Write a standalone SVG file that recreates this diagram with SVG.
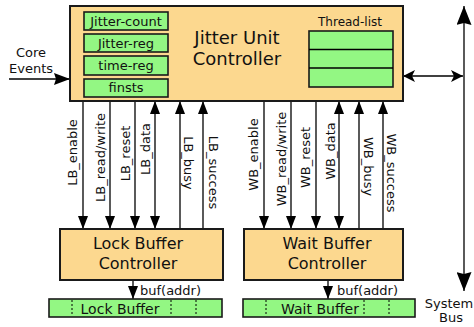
<svg xmlns="http://www.w3.org/2000/svg" width="474" height="327" viewBox="0 0 474 327">
<style>
text{font-family:"DejaVu Sans","Liberation Sans",sans-serif;fill:#111}
.box{fill:#fcd88f;stroke:#1a1a1a;stroke-width:2}
.reg{fill:#93f783;stroke:#1a1a1a;stroke-width:1.6}
.ln{stroke:#000;stroke-width:1.3;fill:none}
.dot{stroke:#000;stroke-width:1;stroke-dasharray:2,2}
.sig{font-size:13px}
.t13{font-size:13px}
</style>
<defs>
<marker id="ah" markerUnits="userSpaceOnUse" markerWidth="13" markerHeight="10" refX="13" refY="5" orient="auto-start-reverse" viewBox="0 0 13 10"><path d="M0,0 L13,5 L0,10 z" fill="#000"/></marker>
<marker id="ahb" markerUnits="userSpaceOnUse" markerWidth="16" markerHeight="12" refX="16" refY="6" orient="auto-start-reverse" viewBox="0 0 16 12"><path d="M0,0 L16,6 L0,12 L2,6 z" fill="#000"/></marker>
<marker id="ahc" markerUnits="userSpaceOnUse" markerWidth="12" markerHeight="12" refX="12" refY="6" orient="auto-start-reverse" viewBox="0 0 12 12"><path d="M0,0 L12,6 L0,12 L3,6 z" fill="#000"/></marker>
<marker id="ahs" markerUnits="userSpaceOnUse" markerWidth="19" markerHeight="15" refX="19" refY="7.5" orient="auto-start-reverse" viewBox="0 0 19 15"><path d="M0,0 L19,7.5 L0,15 L2,7.5 z" fill="#000"/></marker>
</defs>

<g id="connectors">
  <line class="ln" x1="9" y1="79" x2="70" y2="79" marker-end="url(#ahb)"/>
  <line class="ln" x1="403" y1="76" x2="463" y2="76" marker-start="url(#ahc)" marker-end="url(#ahc)"/>
  <line class="ln" x1="464" y1="6" x2="464" y2="291" stroke-width="1.6" marker-start="url(#ahs)" marker-end="url(#ahs)"/>
  <!-- LB signals -->
  <line class="ln" x1="83" y1="101" x2="83" y2="229" marker-end="url(#ah)"/>
  <line class="ln" x1="110" y1="101" x2="110" y2="229" marker-end="url(#ah)"/>
  <line class="ln" x1="135" y1="101" x2="135" y2="229" marker-end="url(#ah)"/>
  <line class="ln" x1="155" y1="101" x2="155" y2="229" marker-start="url(#ah)" marker-end="url(#ah)"/>
  <line class="ln" x1="180" y1="229" x2="180" y2="101" marker-end="url(#ah)"/>
  <line class="ln" x1="203" y1="229" x2="203" y2="101" marker-end="url(#ah)"/>
  <!-- WB signals -->
  <line class="ln" x1="264" y1="101" x2="264" y2="229" marker-end="url(#ah)"/>
  <line class="ln" x1="291" y1="101" x2="291" y2="229" marker-end="url(#ah)"/>
  <line class="ln" x1="316" y1="101" x2="316" y2="229" marker-end="url(#ah)"/>
  <line class="ln" x1="339" y1="101" x2="339" y2="229" marker-start="url(#ah)" marker-end="url(#ah)"/>
  <line class="ln" x1="359" y1="229" x2="359" y2="101" marker-end="url(#ah)"/>
  <line class="ln" x1="383" y1="229" x2="383" y2="101" marker-end="url(#ah)"/>
  <!-- buf(addr) -->
  <line class="ln" x1="133" y1="280" x2="133" y2="299" marker-end="url(#ah)"/>
  <line class="ln" x1="328" y1="280" x2="328" y2="299" marker-end="url(#ah)"/>
  <!-- labels -->
  <text class="sig" text-anchor="middle" transform="translate(77,152.5) rotate(-90)">LB_enable</text>
  <text class="sig" text-anchor="middle" transform="translate(104.5,157.5) rotate(-90)">LB_read/write</text>
  <text class="sig" text-anchor="middle" transform="translate(129.5,153.5) rotate(-90)">LB_reset</text>
  <text class="sig" text-anchor="middle" transform="translate(149.5,149) rotate(-90)">LB_data</text>
  <text class="sig" text-anchor="middle" transform="translate(183.5,163) rotate(90)">LB_busy</text>
  <text class="sig" text-anchor="middle" transform="translate(209,172.5) rotate(90)">LB_success</text>
  <text class="sig" text-anchor="middle" transform="translate(258,154.5) rotate(-90)">WB_enable</text>
  <text class="sig" text-anchor="middle" transform="translate(286,159) rotate(-90)">WB_read/write</text>
  <text class="sig" text-anchor="middle" transform="translate(310,157.5) rotate(-90)">WB_reset</text>
  <text class="sig" text-anchor="middle" transform="translate(335,151) rotate(-90)">WB_data</text>
  <text class="sig" text-anchor="middle" transform="translate(364,166.5) rotate(90)">WB_busy</text>
  <text class="sig" text-anchor="middle" transform="translate(387,173) rotate(90)">WB_success</text>
  <text class="t13" x="140" y="295">buf(addr)</text>
  <text class="t13" x="337" y="295">buf(addr)</text>
  <text class="t13" text-anchor="middle" x="31" y="57">Core</text>
  <text class="t13" text-anchor="middle" x="31" y="73">Events</text>
  <text class="t13" text-anchor="middle" x="449" y="308">System</text>
  <text class="t13" text-anchor="middle" x="451" y="322">Bus</text>
</g>

<g id="jitter-unit">
  <rect class="box" x="70" y="6" width="333" height="95"/>
  <text font-size="18" text-anchor="middle" x="237" y="44">Jitter Unit</text>
  <text font-size="18" text-anchor="middle" x="237" y="65">Controller</text>
  <g id="jitter-count"><rect class="reg" x="84" y="12" width="84" height="18"/><text class="t13" text-anchor="middle" x="126" y="26">Jitter-count</text></g>
  <g id="jitter-reg"><rect class="reg" x="84" y="34" width="84" height="18"/><text class="t13" text-anchor="middle" x="126" y="47.5">Jitter-reg</text></g>
  <g id="time-reg"><rect class="reg" x="84" y="56" width="84" height="19"/><text class="t13" text-anchor="middle" x="126" y="69.5">time-reg</text></g>
  <g id="finsts"><rect class="reg" x="84" y="79" width="84" height="18"/><text class="t13" text-anchor="middle" x="126" y="92">finsts</text></g>
  <g id="thread-list">
    <text font-size="12" text-anchor="middle" x="350" y="26">Thread-list</text>
    <rect class="reg" x="309" y="31" width="84" height="56"/>
    <line class="ln" x1="309" y1="49.5" x2="393" y2="49.5" stroke="#1a1a1a" stroke-width="1.6"/>
    <line class="ln" x1="309" y1="68" x2="393" y2="68" stroke="#1a1a1a" stroke-width="1.6"/>
  </g>
</g>

<g id="lock-buffer-controller">
  <rect class="box" x="60" y="229" width="163" height="51"/>
  <text font-size="16" text-anchor="middle" x="138" y="249">Lock Buffer</text>
  <text font-size="16" text-anchor="middle" x="138" y="269">Controller</text>
</g>
<g id="wait-buffer-controller">
  <rect class="box" x="244" y="229" width="159" height="51"/>
  <text font-size="16" text-anchor="middle" x="327" y="249">Wait Buffer</text>
  <text font-size="16" text-anchor="middle" x="327" y="269">Controller</text>
</g>
<g id="lock-buffer">
  <rect class="reg" x="49" y="299" width="173" height="18"/>
  <line class="dot" x1="72" y1="300" x2="72" y2="316"/>
  <line class="dot" x1="171" y1="300" x2="171" y2="316"/>
  <line class="dot" x1="196" y1="300" x2="196" y2="316"/>
  <text font-size="14" text-anchor="middle" x="120" y="314">Lock Buffer</text>
</g>
<g id="wait-buffer">
  <rect class="reg" x="243" y="299" width="172" height="18"/>
  <line class="dot" x1="266" y1="300" x2="266" y2="316"/>
  <line class="dot" x1="364" y1="300" x2="364" y2="316"/>
  <line class="dot" x1="389" y1="300" x2="389" y2="316"/>
  <text font-size="14" text-anchor="middle" x="320" y="314">Wait Buffer</text>
</g>
</svg>
